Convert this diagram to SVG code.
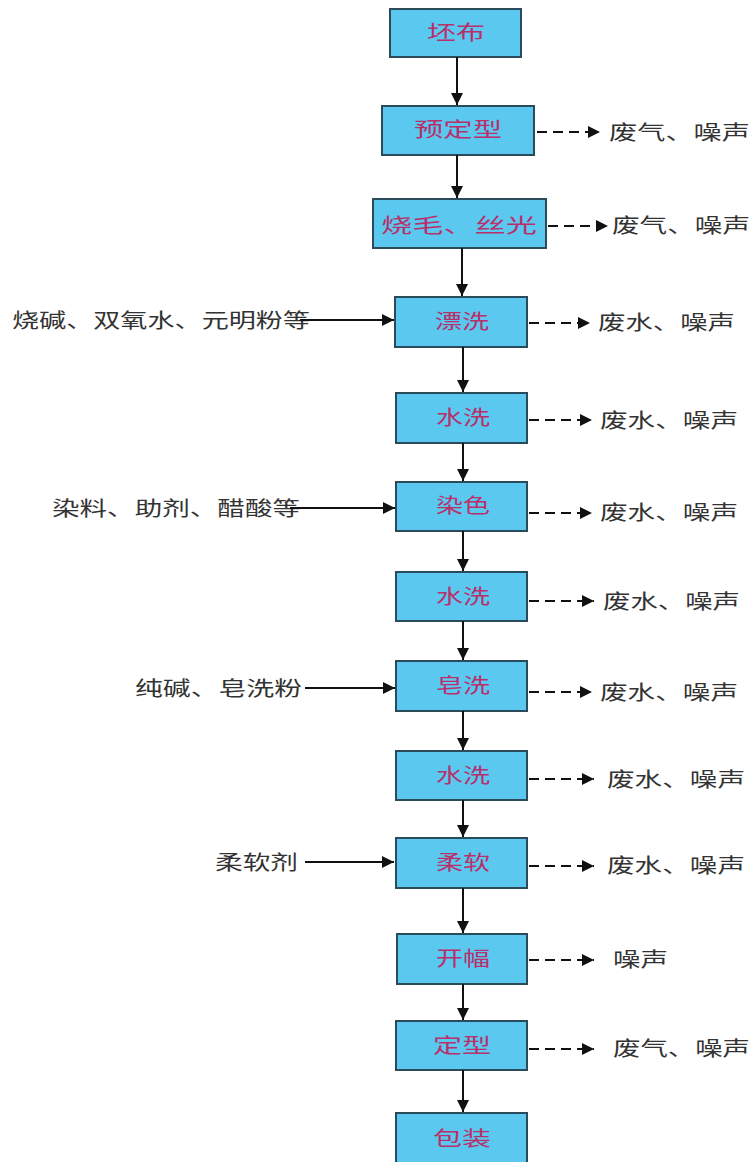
<svg xmlns="http://www.w3.org/2000/svg" width="754" height="1162" viewBox="0 0 754 1162">
<style>
.box{fill:#5bc8f0;stroke:#2b4a5a;stroke-width:2}
.bt{font-family:"Noto Sans CJK SC","Noto Sans",sans-serif;font-size:20px;fill:#b8306a;text-anchor:middle}
.ot{font-family:"Noto Sans CJK SC","Noto Sans",sans-serif;font-size:20px;fill:#333}
.s{stroke:#111;stroke-width:2;fill:none;marker-end:url(#ah)}
.d{stroke:#111;stroke-width:2;fill:none;stroke-dasharray:10 6;marker-end:url(#ah)}
</style>
<defs>
<marker id="ah" markerUnits="userSpaceOnUse" markerWidth="12" markerHeight="12" refX="12" refY="6" orient="auto">
<path d="M0,0 L12,6 L0,12 z" fill="#111"/>
</marker>
</defs>
<rect width="754" height="1162" fill="#fff"/>
<g id="n1"><rect class="box" x="390" y="9" width="131" height="48"/><text class="bt" x="456" y="40" textLength="58" lengthAdjust="spacingAndGlyphs">坯布</text></g>
<g id="n2"><rect class="box" x="382" y="106" width="152" height="49"/><text class="bt" x="458" y="137" textLength="88" lengthAdjust="spacingAndGlyphs">预定型</text></g>
<g id="n3"><rect class="box" x="373" y="199" width="173" height="49"/><text class="bt" x="459" y="233" textLength="156" lengthAdjust="spacingAndGlyphs">烧毛、丝光</text></g>
<g id="n4"><rect class="box" x="395" y="297" width="132" height="50"/><text class="bt" x="462" y="329" textLength="54" lengthAdjust="spacingAndGlyphs">漂洗</text></g>
<g id="n5"><rect class="box" x="396" y="393" width="131" height="50"/><text class="bt" x="463" y="425" textLength="54" lengthAdjust="spacingAndGlyphs">水洗</text></g>
<g id="n6"><rect class="box" x="396" y="482" width="131" height="49"/><text class="bt" x="463" y="513" textLength="54" lengthAdjust="spacingAndGlyphs">染色</text></g>
<g id="n7"><rect class="box" x="396" y="572" width="131" height="49"/><text class="bt" x="463" y="604" textLength="54" lengthAdjust="spacingAndGlyphs">水洗</text></g>
<g id="n8"><rect class="box" x="396" y="661" width="131" height="50"/><text class="bt" x="463" y="693" textLength="54" lengthAdjust="spacingAndGlyphs">皂洗</text></g>
<g id="n9"><rect class="box" x="396" y="751" width="131" height="49"/><text class="bt" x="463" y="783" textLength="54" lengthAdjust="spacingAndGlyphs">水洗</text></g>
<g id="n10"><rect class="box" x="396" y="838" width="131" height="50"/><text class="bt" x="463" y="870" textLength="54" lengthAdjust="spacingAndGlyphs">柔软</text></g>
<g id="n11"><rect class="box" x="397" y="934" width="130" height="50"/><text class="bt" x="463" y="966" textLength="54" lengthAdjust="spacingAndGlyphs">开幅</text></g>
<g id="n12"><rect class="box" x="396" y="1021" width="131" height="49"/><text class="bt" x="462" y="1053" textLength="58" lengthAdjust="spacingAndGlyphs">定型</text></g>
<g id="n13"><rect class="box" x="396" y="1113" width="131" height="60"/><text class="bt" x="462" y="1146" textLength="58" lengthAdjust="spacingAndGlyphs">包装</text></g>
<g id="inputs">
<text class="ot" x="12" y="328" textLength="298" lengthAdjust="spacingAndGlyphs">烧碱、双氧水、元明粉等</text>
<text class="ot" x="52" y="516" textLength="248" lengthAdjust="spacingAndGlyphs">染料、助剂、醋酸等</text>
<text class="ot" x="135" y="696" textLength="167" lengthAdjust="spacingAndGlyphs">纯碱、皂洗粉</text>
<text class="ot" x="215" y="870" textLength="83" lengthAdjust="spacingAndGlyphs">柔软剂</text>
</g>
<g id="outputs">
<text class="ot" x="609" y="140" textLength="141" lengthAdjust="spacingAndGlyphs">废气、噪声</text>
<text class="ot" x="612" y="233" textLength="138" lengthAdjust="spacingAndGlyphs">废气、噪声</text>
<text class="ot" x="598" y="330" textLength="137" lengthAdjust="spacingAndGlyphs">废水、噪声</text>
<text class="ot" x="600" y="428" textLength="138" lengthAdjust="spacingAndGlyphs">废水、噪声</text>
<text class="ot" x="600" y="520" textLength="138" lengthAdjust="spacingAndGlyphs">废水、噪声</text>
<text class="ot" x="603" y="609" textLength="137" lengthAdjust="spacingAndGlyphs">废水、噪声</text>
<text class="ot" x="600" y="700" textLength="138" lengthAdjust="spacingAndGlyphs">废水、噪声</text>
<text class="ot" x="607" y="787" textLength="138" lengthAdjust="spacingAndGlyphs">废水、噪声</text>
<text class="ot" x="607" y="873" textLength="138" lengthAdjust="spacingAndGlyphs">废水、噪声</text>
<text class="ot" x="613" y="967" textLength="55" lengthAdjust="spacingAndGlyphs">噪声</text>
<text class="ot" x="613" y="1056" textLength="137" lengthAdjust="spacingAndGlyphs">废气、噪声</text>
</g>
<g id="connectors">
<line class="s" x1="457" y1="57" x2="457" y2="105"/>
<line class="s" x1="457" y1="155" x2="457" y2="198"/>
<line class="s" x1="462" y1="248" x2="462" y2="296"/>
<line class="s" x1="463" y1="347" x2="463" y2="392"/>
<line class="s" x1="463" y1="443" x2="463" y2="481"/>
<line class="s" x1="463" y1="531" x2="463" y2="571"/>
<line class="s" x1="463" y1="621" x2="463" y2="660"/>
<line class="s" x1="463" y1="711" x2="463" y2="750"/>
<line class="s" x1="463" y1="800" x2="463" y2="837"/>
<line class="s" x1="463" y1="888" x2="463" y2="933"/>
<line class="s" x1="463" y1="984" x2="463" y2="1020"/>
<line class="s" x1="463" y1="1070" x2="463" y2="1112"/>
<line class="s" x1="300" y1="320" x2="394" y2="320"/>
<line class="s" x1="290" y1="508" x2="395" y2="508"/>
<line class="s" x1="305" y1="688" x2="395" y2="688"/>
<line class="s" x1="305" y1="862" x2="394" y2="862"/>
<line class="d" x1="537" y1="132" x2="600" y2="132"/>
<line class="d" x1="548" y1="226" x2="608" y2="226"/>
<line class="d" x1="529" y1="323" x2="590" y2="323"/>
<line class="d" x1="529" y1="420" x2="592" y2="420"/>
<line class="d" x1="529" y1="513" x2="592" y2="513"/>
<line class="d" x1="529" y1="601" x2="594" y2="601"/>
<line class="d" x1="529" y1="692" x2="592" y2="692"/>
<line class="d" x1="529" y1="779" x2="594" y2="779"/>
<line class="d" x1="529" y1="866" x2="594" y2="866"/>
<line class="d" x1="529" y1="960" x2="594" y2="960"/>
<line class="d" x1="529" y1="1049" x2="594" y2="1049"/>
</g>
</svg>
